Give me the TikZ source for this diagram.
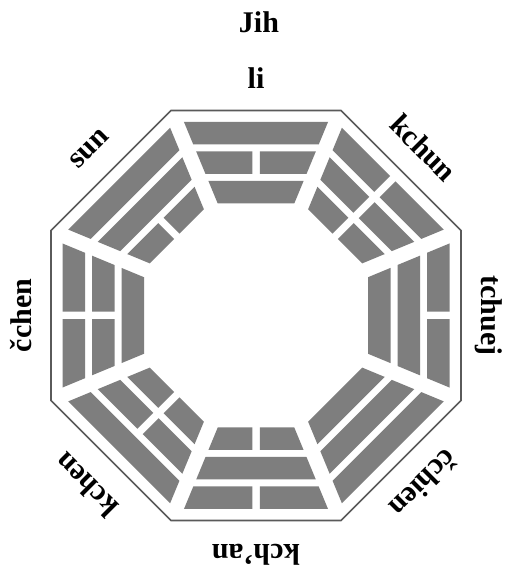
\documentclass[tikz,border=0pt]{standalone}
\usepackage{fontspec}
\setmainfont{Liberation Serif}
\definecolor{barcol}{HTML}{7E7E7E}
\definecolor{rimcol}{HTML}{5A5A5A}
\tikzset{
  barfill/.style={fill=barcol, draw=none},
  lbl/.style={font=\fontsize{30}{30}\selectfont\bfseries, inner sep=0pt, anchor=center},
  rim/.style={draw=rimcol, line width=1.6pt, fill=white, line join=miter},
}
% one line of a trigram: inner distance, outer distance, 1 = solid / 0 = broken
\newcommand\trigline[3]{%
  \pgfmathsetmacro\wa{#1*0.41421-8.12}%
  \pgfmathsetmacro\wb{#2*0.41421-8.12}%
  \ifnum#3=1
    \fill[barfill] (-\wa,#1) -- (\wa,#1) -- (\wb,#2) -- (-\wb,#2) -- cycle;
  \else
    \fill[barfill] (-\wa,#1) -- (-3.75,#1) -- (-3.75,#2) -- (-\wb,#2) -- cycle;
    \fill[barfill] (\wa,#1) -- (3.75,#1) -- (3.75,#2) -- (\wb,#2) -- cycle;
  \fi
}
\begin{document}
\begin{tikzpicture}[x=1pt,y=1pt]
  \fill[white] (0,0) rectangle (506,568);
  \useasboundingbox (0,0) rectangle (506,568);
  \node[lbl] (jih) at (259,546) {Jih};
  \begin{scope}[shift={(256,252.5)}]
    \coordinate (C) at (0,0);
    \draw[rim] (22.5:221.9) -- (67.5:221.9) -- (112.5:221.9) -- (157.5:221.9)
      -- (202.5:221.9) -- (247.5:221.9) -- (292.5:221.9) -- (337.5:221.9) -- cycle;
    % angle / inner / middle / outer line
    \foreach \ang/\la/\lb/\lc in {90/1/0/1, 45/0/0/0, 0/1/1/0, -45/1/1/1,
                                   -90/0/1/0, -135/0/0/1, 180/1/0/0, 135/0/1/1}{
      \begin{scope}[rotate=\ang-90]
        \trigline{112}{134.5}{\la}
        \trigline{141.5}{164}{\lb}
        \trigline{171}{193.5}{\lc}
      \end{scope}
    }
    \node[lbl, rotate=0]    (li)     at (90:237)   {li};
    \node[lbl, rotate=-45]  (kchun)  at (45:237)   {kchun};
    \node[lbl, rotate=-90]  (tchuej) at (0:233)    {tchuej};
    \node[lbl, rotate=-135] (cchien) at (-45:238)  {čchien};
    \node[lbl, rotate=180]  (kchan)  at (-90:239)  {kch’an};
    \node[lbl, rotate=135]  (kchen)  at (-135:240) {kchen};
    \node[lbl, rotate=90]   (cchen)  at (180:235)  {čchen};
    \node[lbl, rotate=45]   (sun)    at (135:236)  {sun};
  \end{scope}
\end{tikzpicture}
\end{document}
